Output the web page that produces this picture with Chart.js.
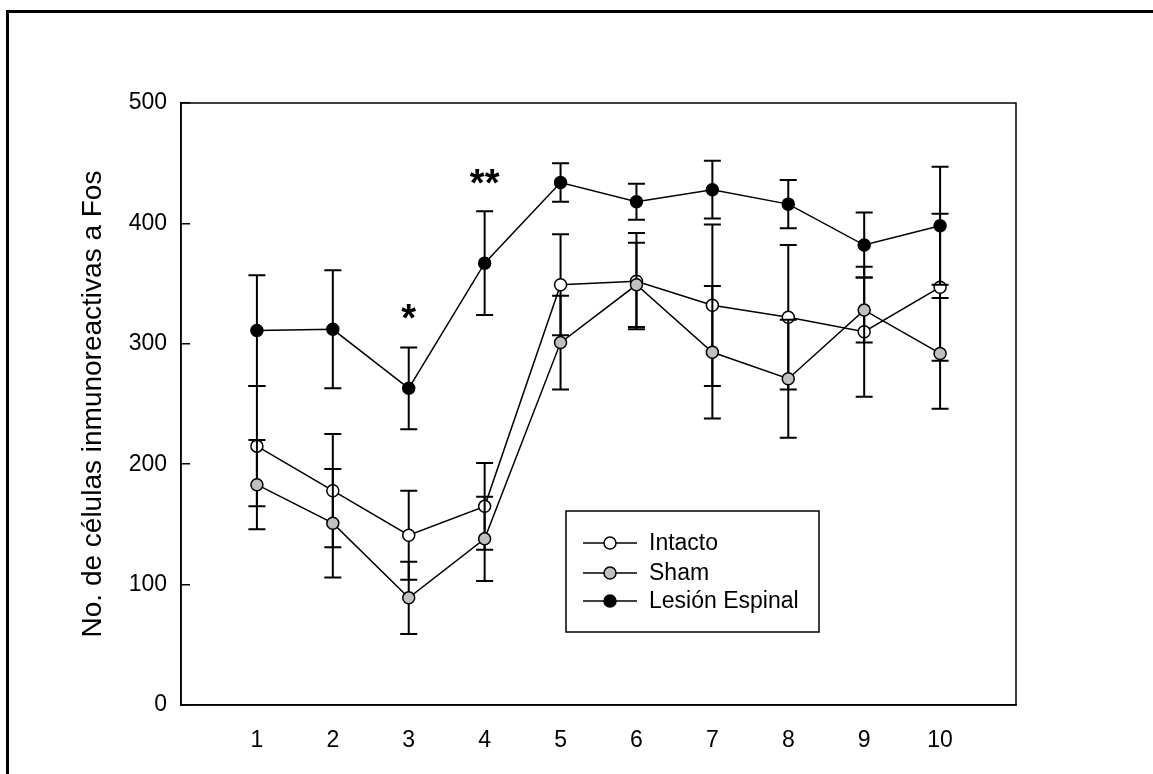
<!DOCTYPE html>
<html lang="es">
<head>
<meta charset="UTF-8">
<title>Células inmunoreactivas a Fos</title>
<script src="https://cdn.jsdelivr.net/npm/chart.js"></script>
<style>
  html, body { margin: 0; padding: 0; background: #fff; overflow: hidden; }
  #frame { position: absolute; left: 6px; top: 10px; width: 1300px; height: 900px; border: 3px solid #000; box-sizing: border-box; }
  #wrap { position: absolute; left: 0; top: 0; width: 1153px; height: 774px; }
</style>
</head>
<body>
<div id="frame"></div>
<div id="wrap"><canvas id="myChart" width="1153" height="774"></canvas></div>
<script>
// values
const xValues = [1, 2, 3, 4, 5, 6, 7, 8, 9, 10];
const xLabels = ['1', '2', '3', '4', '5', '6', '7', '8', '9', '10'];

const intacto    = [215, 178, 141, 165, 349, 352, 332, 322, 310, 347];
const intactoErr = [50, 47, 37, 36, 42, 40, 67, 60, 54, 61];

const sham       = [183, 151, 89, 138, 301, 349, 293, 271, 328, 292];
const shamErr    = [37, 45, 30, 35, 39, 35, 55, 49, 27, 46];

const lesion     = [311, 312, 263, 367, 434, 418, 428, 416, 382, 398];
const lesionErr  = [46, 49, 34, 43, 16, 15, 24, 20, 27, 49];

// significance marks (x position, baseline value, text)
const sigX = [3, 4];
const sigY = [311, 423];
const sigText = ['*', '**'];

const fontFam = 'Arial, "Liberation Sans", sans-serif';
Chart.defaults.font.family = fontFam;
Chart.defaults.color = '#000';

function series(label, values, errs, fill, order) {
    return {
        label: label,
        data: xValues.map((x, i) => ({ x: x, y: values[i] })),
        errors: errs,
        borderColor: '#000',
        borderWidth: 1.5,
        backgroundColor: fill,
        pointBackgroundColor: fill,
        pointBorderColor: '#000',
        pointBorderWidth: 1.5,
        pointRadius: 6,
        pointHoverRadius: 6,
        fill: false,
        tension: 0,
        order: order
    };
}

// error bars drawn just before each dataset so its own markers sit on top
const errorBars = {
    id: 'errorBars',
    beforeDatasetDraw(chart, args) {
        const ds = chart.data.datasets[args.index];
        const y = chart.scales.y;
        const ctx = chart.ctx;
        ctx.save();
        ctx.strokeStyle = '#000';
        ctx.lineWidth = 2;
        args.meta.data.forEach((pt, i) => {
            const v = ds.data[i].y, e = ds.errors[i];
            const top = y.getPixelForValue(v + e);
            const bot = y.getPixelForValue(v - e);
            ctx.beginPath();
            ctx.moveTo(pt.x, top); ctx.lineTo(pt.x, bot);
            ctx.moveTo(pt.x - 8.5, top); ctx.lineTo(pt.x + 8.5, top);
            ctx.moveTo(pt.x - 8.5, bot); ctx.lineTo(pt.x + 8.5, bot);
            ctx.stroke();
        });
        ctx.restore();
    }
};

const boxAndMarks = {
    id: 'boxAndMarks',
    beforeDatasetsDraw(chart) {
        const a = chart.chartArea, ctx = chart.ctx;
        ctx.save();
        ctx.strokeStyle = '#000';
        ctx.lineWidth = 1.5;
        ctx.strokeRect(a.left, a.top, a.right - a.left, a.bottom - a.top);
        ctx.restore();
    },
    afterDatasetsDraw(chart) {
        const a = chart.chartArea, ctx = chart.ctx;
        const xs = chart.scales.x, ys = chart.scales.y;
        ctx.save();
        // asterisks
        ctx.fillStyle = '#000';
        ctx.font = 'bold 38px ' + fontFam;
        ctx.textAlign = 'center';
        ctx.textBaseline = 'alphabetic';
        sigX.forEach((x, i) => {
            ctx.fillText(sigText[i], xs.getPixelForValue(x), ys.getPixelForValue(sigY[i]));
        });
        // legend box
        const bx = a.left + 385, by = a.top + 408, bw = 253, bh = 121;
        ctx.fillStyle = '#fff';
        ctx.fillRect(bx, by, bw, bh);
        ctx.strokeStyle = '#000';
        ctx.lineWidth = 1.5;
        ctx.strokeRect(bx, by, bw, bh);
        const rows = [32, 62, 90];
        ctx.font = '23px ' + fontFam;
        ctx.textAlign = 'left';
        ctx.textBaseline = 'middle';
        chart.data.datasets.forEach((ds, i) => {
            const ry = by + rows[i];
            ctx.beginPath();
            ctx.moveTo(bx + 17, ry); ctx.lineTo(bx + 71, ry);
            ctx.lineWidth = 1.5;
            ctx.stroke();
            ctx.beginPath();
            ctx.arc(bx + 44, ry, 6, 0, Math.PI * 2);
            ctx.fillStyle = ds.pointBackgroundColor;
            ctx.fill();
            ctx.stroke();
            ctx.fillStyle = '#000';
            ctx.fillText(ds.label, bx + 83, ry + 1);
        });
        ctx.restore();
    }
};

new Chart(document.getElementById('myChart'), {
    type: 'line',
    data: {
        datasets: [
            series('Intacto', intacto, intactoErr, '#ffffff', 3),
            series('Sham', sham, shamErr, '#c0c0c0', 2),
            series('Lesión Espinal', lesion, lesionErr, '#000000', 1)
        ]
    },
    options: {
        responsive: false,
        animation: false,
        devicePixelRatio: 1,
        layout: { padding: { top: 103, right: 137, left: 0, bottom: 0 } },
        plugins: { legend: { display: false }, tooltip: { enabled: false } },
        scales: {
            x: {
                type: 'linear',
                min: 0,
                max: 11,
                afterFit(s) { s.height = 69; },
                grid: { display: false, drawTicks: false },
                border: { display: true, color: '#000', width: 1.5 },
                ticks: {
                    stepSize: 1,
                    padding: 22,
                    color: '#000',
                    font: { size: 23 },
                    callback: v => (v >= 1 && v <= 10) ? xLabels[v - 1] : ''
                }
            },
            y: {
                min: 0,
                max: 500,
                afterFit(s) { s.width = 181; },
                grid: { drawOnChartArea: false, drawTicks: true, tickLength: -9, color: '#000', lineWidth: 1.5 },
                border: { display: true, color: '#000', width: 1.5 },
                ticks: { stepSize: 100, padding: 23, color: '#000', font: { size: 23 } },
                title: {
                    display: true,
                    text: 'No. de células inmunoreactivas a Fos',
                    color: '#000',
                    font: { size: 28 },
                    padding: { top: 76, bottom: 0 }
                }
            }
        }
    },
    plugins: [errorBars, boxAndMarks]
});
</script>
</body>
</html>
